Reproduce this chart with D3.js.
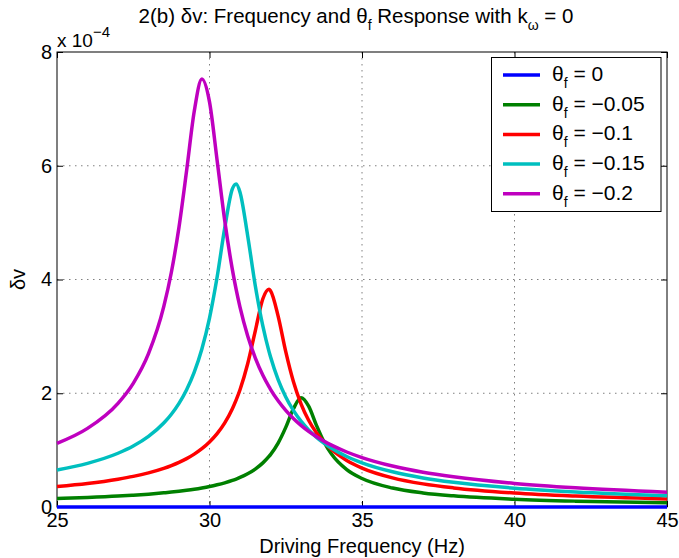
<!DOCTYPE html>
<html>
<head>
<meta charset="utf-8">
<script src="https://cdn.jsdelivr.net/npm/d3@7"></script>
<style>
  body { margin: 0; background: #fff; }
  text { font-family: "Liberation Sans", Arial, Helvetica, sans-serif; fill: #000; }
</style>
</head>
<body>
<svg id="chart" width="679" height="558"></svg>
<script>
// Driving frequency samples (Hz)
const freq = [25, 26, 27, 27.5, 28, 28.5, 28.75, 29, 29.25, 29.5, 29.75, 30, 30.25, 30.5, 30.75, 30.875,
              31, 31.25, 31.5, 31.75, 31.95, 32, 32.25, 32.5, 32.75, 33, 33.25, 33.5, 33.75, 34, 34.5,
              35, 36, 37, 38, 40, 42, 45];

// δv response in units of 1e-4, one array per θf
const dvTheta0 = [0, 0, 0, 0, 0, 0, 0, 0, 0, 0, 0, 0, 0, 0, 0, 0, 0, 0, 0, 0,
                  0, 0, 0, 0, 0, 0, 0, 0, 0, 0, 0, 0, 0, 0, 0, 0, 0, 0];
const dvTheta005 = [0.150, 0.168, 0.192, 0.208, 0.226, 0.249, 0.262, 0.277, 0.294, 0.313, 0.335, 0.360, 0.390,
                    0.425, 0.467, 0.492, 0.519, 0.584, 0.667, 0.776, 0.889, 0.922, 1.124, 1.400, 1.725, 1.920,
                    1.773, 1.445, 1.149, 0.931, 0.657, 0.501, 0.334, 0.248, 0.196, 0.137, 0.103, 0.075];
const dvTheta010 = [0.361, 0.414, 0.489, 0.538, 0.600, 0.679, 0.728, 0.785, 0.851, 0.930, 1.025, 1.143, 1.290,
                    1.479, 1.727, 1.882, 2.061, 2.514, 3.093, 3.662, 3.828, 3.803, 3.356, 2.731, 2.206, 1.814,
                    1.525, 1.309, 1.143, 1.011, 0.819, 0.685, 0.513, 0.407, 0.336, 0.246, 0.192, 0.142];
const dvTheta015 = [0.650, 0.768, 0.945, 1.072, 1.241, 1.476, 1.631, 1.822, 2.062, 2.371, 2.778, 3.322, 4.043,
                    4.907, 5.595, 5.681, 5.535, 4.775, 3.896, 3.179, 2.736, 2.641, 2.240, 1.935, 1.698, 1.509,
                    1.356, 1.229, 1.123, 1.033, 0.888, 0.777, 0.619, 0.511, 0.434, 0.330, 0.263, 0.199];
const dvTheta020 = [1.119, 1.382, 1.823, 2.175, 2.696, 3.522, 4.128, 4.921, 5.915, 6.957, 7.524, 7.122, 6.094,
                    5.034, 4.174, 3.821, 3.515, 3.013, 2.624, 2.317, 2.116, 2.070, 1.868, 1.699, 1.557, 1.435,
                    1.330, 1.239, 1.158, 1.087, 0.967, 0.869, 0.720, 0.611, 0.530, 0.414, 0.337, 0.260];

const thetaLabels = ["0", "\u22120.05", "\u22120.1", "\u22120.15", "\u22120.2"];
const xTicks = [25, 30, 35, 40, 45];
const yTicks = [0, 2, 4, 6, 8];

const seriesValues = [dvTheta0, dvTheta005, dvTheta010, dvTheta015, dvTheta020];
const seriesColors = ["#0000ff", "#008000", "#ff0000", "#00bfbf", "#bf00bf"];

const series = seriesValues.map((vals, i) => ({
  label: thetaLabels[i],
  color: seriesColors[i],
  points: freq.map((f, j) => [f, vals[j]])
}));

const svg = d3.select("#chart");
const plotL = 57, plotR = 667, plotT = 52, plotB = 507;
const FS = 20;

const x = d3.scaleLinear().domain([25, 45]).range([plotL, plotR]);
const y = d3.scaleLinear().domain([0, 8]).range([plotB, plotT]);

// dotted grid
const grid = svg.append("g").attr("stroke", "#808080").attr("stroke-width", 1)
  .attr("stroke-dasharray", "1.5,4.5");
xTicks.slice(1, -1).forEach(t => {
  grid.append("line").attr("x1", x(t)).attr("x2", x(t)).attr("y1", plotT).attr("y2", plotB);
});
yTicks.slice(1, -1).forEach(t => {
  grid.append("line").attr("x1", plotL).attr("x2", plotR).attr("y1", y(t)).attr("y2", y(t));
});

// axes with inward ticks
const tick = 6;
const axB = svg.append("g").attr("transform", `translate(0,${plotB})`)
  .call(d3.axisBottom(x).tickValues(xTicks).tickSizeInner(-tick).tickSizeOuter(0).tickPadding(6)
    .tickFormat(d3.format("d")));
const axT = svg.append("g").attr("transform", `translate(0,${plotT})`)
  .call(d3.axisTop(x).tickValues(xTicks).tickSizeInner(-tick).tickSizeOuter(0).tickFormat(""));
const axL = svg.append("g").attr("transform", `translate(${plotL},0)`)
  .call(d3.axisLeft(y).tickValues(yTicks).tickSizeInner(-tick).tickSizeOuter(0).tickPadding(5)
    .tickFormat(d3.format("d")));
const axR = svg.append("g").attr("transform", `translate(${plotR},0)`)
  .call(d3.axisRight(y).tickValues(yTicks).tickSizeInner(-tick).tickSizeOuter(0).tickFormat(""));
[axB, axT, axL, axR].forEach(a => {
  a.select(".domain").remove();
  a.selectAll("line").attr("stroke", "#000");
  a.selectAll("text").attr("font-size", FS).attr("font-family", null);
});

// frame
svg.append("rect").attr("x", plotL).attr("y", plotT).attr("width", plotR - plotL).attr("height", plotB - plotT)
  .attr("fill", "none").attr("stroke", "#000").attr("stroke-width", 1);

// response curves
const line = d3.line().x(d => x(d[0])).y(d => y(d[1])).curve(d3.curveMonotoneX);
svg.append("g").selectAll("path").data(series).join("path")
  .attr("d", d => line(d.points))
  .attr("fill", "none")
  .attr("stroke", d => d.color)
  .attr("stroke-width", 3.5)
  .attr("stroke-linejoin", "round");

// exponent label
const ex = svg.append("text").attr("x", plotL).attr("y", 47).attr("font-size", FS - 1);
ex.append("tspan").text("x 10");
ex.append("tspan").attr("dy", -10).attr("font-size", FS - 5).text("\u22124");

// title
const title = svg.append("text").attr("x", 356).attr("y", 23).attr("text-anchor", "middle").attr("font-size", FS + 0.5);
title.append("tspan").text("2(b) \u03b4v: Frequency and \u03b8");
title.append("tspan").attr("dy", 7).attr("font-size", FS - 6).text("f");
title.append("tspan").attr("dy", -7).text(" Response with k");
title.append("tspan").attr("dy", 7).attr("font-size", FS - 6).text("\u03c9");
title.append("tspan").attr("dy", -7).text(" = 0");

// axis labels
svg.append("text").attr("x", (plotL + plotR) / 2).attr("y", 553).attr("text-anchor", "middle")
  .attr("font-size", FS).text("Driving Frequency (Hz)");
svg.append("text").attr("transform", `translate(25,${(plotT + plotB) / 2}) rotate(-90)`)
  .attr("text-anchor", "middle").attr("font-size", FS).text("\u03b4v");

// legend
const lg = svg.append("g");
lg.append("rect").attr("x", 491.5).attr("y", 57.5).attr("width", 169.5).attr("height", 154)
  .attr("fill", "#fff").attr("stroke", "#000").attr("stroke-width", 1);
series.forEach((s, i) => {
  const cy = 75 + i * 29.7;
  lg.append("line").attr("x1", 503).attr("x2", 540).attr("y1", cy).attr("y2", cy)
    .attr("stroke", s.color).attr("stroke-width", 3.5);
  const t = lg.append("text").attr("x", 552).attr("y", cy + 6).attr("font-size", FS + 1);
  t.append("tspan").text("\u03b8");
  t.append("tspan").attr("dy", 7).attr("font-size", FS - 6).text("f");
  t.append("tspan").attr("dy", -7).text(" = " + s.label);
});
</script>
</body>
</html>
